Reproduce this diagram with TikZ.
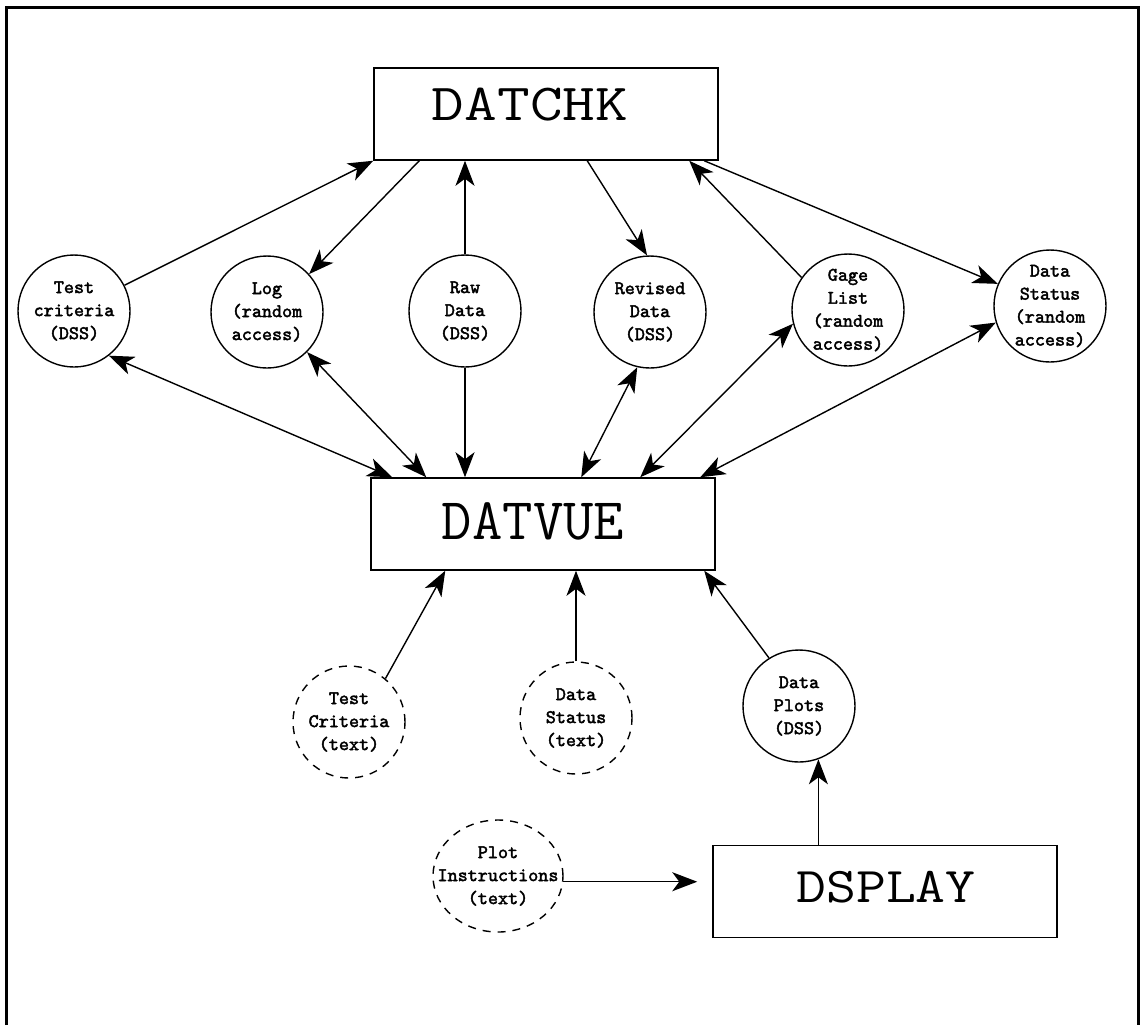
\documentclass[tikz,border=0pt]{standalone}
\usepackage{graphicx}
\usepackage{fontspec}
\newfontfamily\storefont[FakeBold=2.2]{lmmono10-regular.otf}
\usetikzlibrary{arrows.meta,calc,shapes.geometric}
\begin{document}
\begin{tikzpicture}[x=0.5pt,y=-0.5pt,
  >={Stealth[length=12.5pt,width=9.5pt,inset=3.5pt]},
  line width=0.7pt,
  box/.style={draw, line width=0.75pt, minimum width=172pt, minimum height=46pt, inner sep=0pt},
  store/.style={draw, circle, minimum size=56pt, inner sep=0pt, align=center,
    font=\storefont\fontsize{9.6}{11.5}\selectfont},
  tstore/.style={store, dash pattern=on 4pt off 3.5pt},
  lbl/.style={inner sep=0pt, font=\ttfamily\fontsize{26}{30}\selectfont}
]
\useasboundingbox (0,0) rectangle (1142,1025);
\draw[line width=1.5pt] (6,1025) -- (6,7) -- (1138,7) -- (1138,1025);

% process boxes
\node[box] (datchk) at (546,114) {};
\node[lbl] (datchkt) at (530,105) {\scalebox{1.22}[1]{DATCHK}};
\node[box] (datvue) at (543,524) {};
\node[lbl, font=\ttfamily\fontsize{29.5}{32}\selectfont] (datvuet) at (533,521.5) {DATVUE};
\node[box] (dsplay) at (885,891.5) {};
\node[lbl, font=\ttfamily\fontsize{25}{30}\selectfont] (dsplayt) at (886,887) {\scalebox{1.16}[1]{DSPLAY}};

% data stores
\node[store] (tc) at (74,311) {Test\\criteria\\(DSS)};
\node[store] (log) at (267,312) {Log\\(random\\access)};
\node[store] (raw) at (465,311) {Raw\\Data\\(DSS)};
\node[store] (rev) at (650,312) {Revised\\Data\\(DSS)};
\node[store] (gage) at (848,310) {Gage\\List\\(random\\access)};
\node[store] (dstat) at (1050,306) {Data\\Status\\(random\\access)};
\node[tstore] (tct) at (349,722) {Test\\Criteria\\(text)};
\node[tstore] (dst) at (576,718) {Data\\Status\\(text)};
\node[store] (dp) at (799,706) {Data\\Plots\\(DSS)};
\node[tstore, ellipse, minimum width=65pt, minimum height=56pt] (pi) at (498,876) {};
\node[inner sep=0pt, align=center, font=\storefont\fontsize{9.6}{11.5}\selectfont] (pit) at (pi) {Plot\\Instructions\\(text)};

% connectors to/from DATCHK
\draw[->] (tc.27) -- (datchk.south west);
\draw[->] ($(datchk.south west)+(46,0)$) -- (log.42);
\draw[->] (raw.north) -- (raw.north |- datchk.south);
\draw[->] ($(datchk.south west)+(214,0)$) -- (rev.93);
\draw[->] (gage.145) -- ($(datchk.south west)+(316,0)$);
\draw[->] ($(datchk.south west)+(331,0)$) -- (dstat.157);

% connectors to/from DATVUE
\draw[<->] (tc.-52) -- ($(datvue.north west)+(22,0)$);
\draw[<->] (log.-45) -- ($(datvue.north west)+(56,0)$);
\draw[->] (raw.south) -- (raw.south |- datvue.north);
\draw[<->] (rev.-103) -- ($(datvue.north west)+(211,0)$);
\draw[<->] (gage.-166) -- ($(datvue.north west)+(270,0)$);
\draw[<->] (dstat.197) -- ($(datvue.north west)+(330,0)$);
\draw[->] (tct.50) -- ($(datvue.south west)+(75,0)$);
\draw[->] (dst.north) -- (dst.north |- datvue.south);
\draw[->] (dp.122) -- ($(datvue.south west)+(334,0)$);

% DSPLAY connectors
\draw[->] (dp.-70 |- dsplay.north) -- (dp.-70);
\draw[->, shorten >=7.5pt] (pi.-5) -- (pi.-5 -| dsplay.west);
\end{tikzpicture}
\end{document}
